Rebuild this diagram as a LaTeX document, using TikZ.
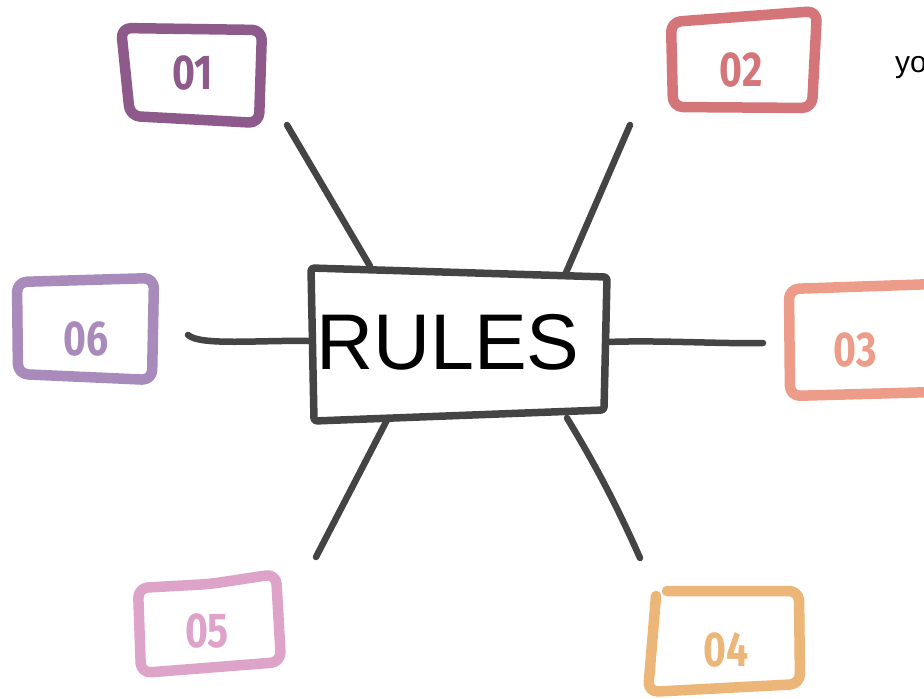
\documentclass[tikz,border=0pt]{standalone}
\usepackage{fontspec}
\setmainfont{Liberation Sans}
\newfontfamily\numfont[FakeStretch=0.8]{Fira Sans Bold}
\definecolor{ink}{HTML}{444444}
\definecolor{cOne}{HTML}{8E5A8B}
\definecolor{cTwo}{HTML}{D4757A}
\definecolor{cThree}{HTML}{EC9C88}
\definecolor{cFour}{HTML}{EDB679}
\definecolor{cFive}{HTML}{DEA3C9}
\definecolor{cSix}{HTML}{A88BBB}
\tikzset{
  frame/.style={line width=10.5pt, line join=round, line cap=round, rounded corners=10pt},
  num/.style={font=\numfont\fontsize{49}{49}\selectfont, inner sep=0pt},
  spoke/.style={draw=ink, line width=6.5pt, line cap=round},
  centerframe/.style={draw=ink, line width=7.5pt, line join=round, rounded corners=3pt},
}
\begin{document}
\begin{tikzpicture}[x=1pt,y=-1pt]
\useasboundingbox (0,0) rectangle (924,699);

% numbered frames
\draw[frame, cOne]   (121,28) -- (262,30) -- (259,123) -- (130,116) -- cycle;
\draw[frame, cTwo]   (671,22) -- (817,11) -- (812,108) -- (673,107) -- cycle;
\draw[frame, cThree] (789,289) -- (935,284) -- (935,392) -- (790,396) -- cycle;
\draw[frame, cFour]  (656,596) -- (648,692) -- (800,684) -- (799,591) -- (667,591);
\draw[frame, cFive]  (138,588) -- (210,584) -- (276,574) -- (281,662) -- (141,673) -- cycle;
\draw[frame, cSix]   (17,282) -- (154,278) -- (152,380) -- (18,374) -- cycle;

\node[num, text=cOne]   (n1) at (193,73)  {01};
\node[num, text=cTwo]   (n2) at (741,70)  {02};
\node[num, text=cThree] (n3) at (855,350) {03};
\node[num, text=cFour]  (n4) at (726,650) {04};
\node[num, text=cFive]  (n5) at (207,631) {05};
\node[num, text=cSix]   (n6) at (86,339)  {06};

% side note
\node[anchor=base west, inner sep=0pt, font=\fontsize{30}{30}\selectfont] (note) at (895,72) {yo};

% central frame
\draw[centerframe] (311,268) -- (607,277) -- (604,410) -- (314,421) -- cycle;
\node[inner sep=0pt, font=\fontsize{79}{79}\selectfont] (rules) at (448,342) {RULES};

% spoke anchors
\coordinate (a1) at (287,125);  \coordinate (b1) at (370,266);
\coordinate (a2) at (630,125);  \coordinate (b2) at (565,275);
\coordinate (a3) at (763,343);  \coordinate (b3) at (607,342);
\coordinate (a4) at (640,558);  \coordinate (b4) at (567,418);
\coordinate (a5) at (316,557);  \coordinate (b5) at (387,420);
\coordinate (a6) at (188,335);  \coordinate (b6) at (308,341);

% spokes
\draw[spoke] (a1) -- (b1);
\draw[spoke] (a2) -- (b2);
\draw[spoke] (b3) .. controls (660,340) and (720,344) .. (a3);
\draw[spoke] (b4) .. controls (585,448) and (610,490) .. (a4);
\draw[spoke] (b5) -- (a5);
\draw[spoke] (a6) .. controls (200,346) and (260,340) .. (b6);
\end{tikzpicture}
\end{document}
